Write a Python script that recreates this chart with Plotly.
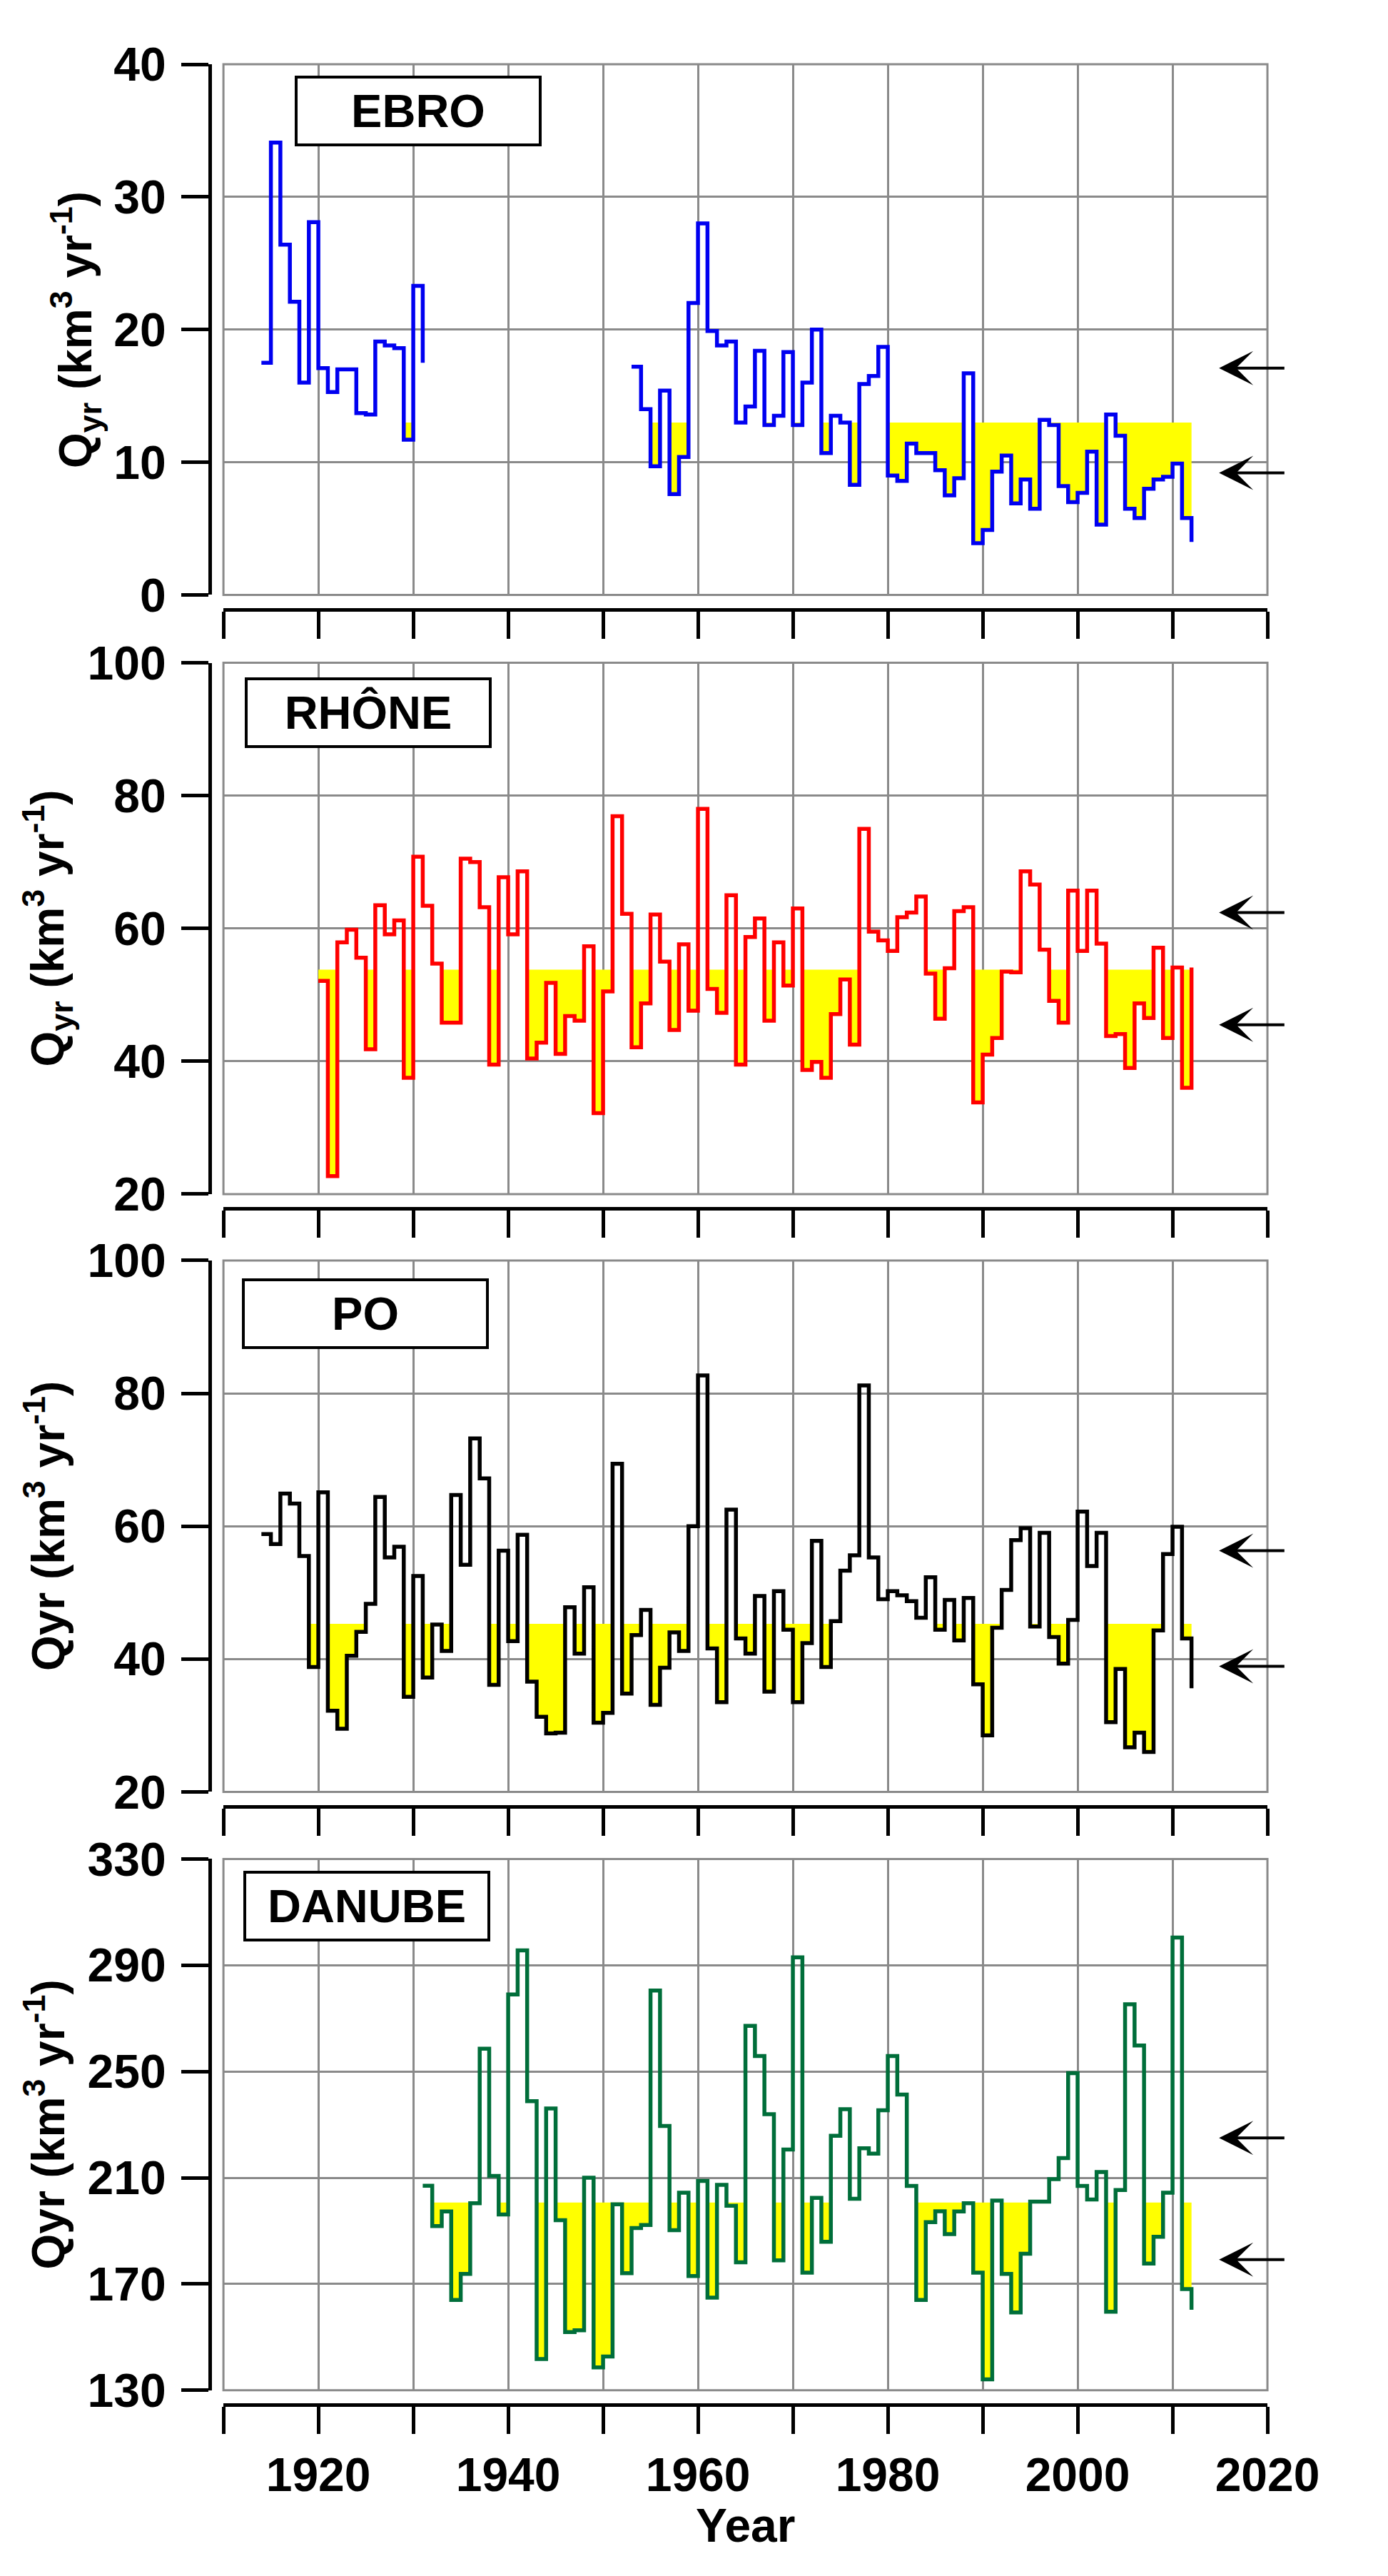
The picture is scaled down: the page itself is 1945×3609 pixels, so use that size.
import plotly.graph_objects as go

W, H = 1945, 3609

# ---------------- data ----------------
years_ebro_a = list(range(1914, 1932))
q_ebro_a = [17.5, 34.1, 26.4, 22.1, 16.0, 28.1, 17.1, 15.3, 17.0, 17.0,
            13.7, 13.6, 19.1, 18.8, 18.6, 11.7, 23.3, 17.5]

years_ebro_b = list(range(1953, 2013))
q_ebro_b = [17.2, 14.0, 9.7, 15.4, 7.6, 10.4, 22.0, 28.0, 19.9, 18.8,
            19.1, 13.0, 14.2, 18.4, 12.8, 13.5, 18.3, 12.8, 16.0, 20.0,
            10.7, 13.5, 13.0, 8.3, 15.9, 16.5, 18.7, 9.0, 8.6, 11.4,
            10.7, 10.7, 9.4, 7.5, 8.8, 16.7, 3.9, 4.9, 9.3, 10.5,
            6.9, 8.7, 6.5, 13.2, 12.8, 8.2, 7.0, 7.7, 10.8, 5.3,
            13.6, 12.0, 6.5, 5.8, 8.0, 8.7, 8.9, 9.9, 5.8, 4.0]

years_rhone = list(range(1920, 2013))
q_rhone = [52.1, 22.7, 57.9, 59.8, 55.6, 41.8, 63.5, 59.1, 61.2, 37.5,
           70.8, 63.4, 54.7, 45.8, 45.8, 70.5, 70.0, 63.2, 39.5, 67.7,
           59.1, 68.6, 40.4, 42.8, 51.8, 41.1, 46.8, 46.1, 57.3, 32.2,
           50.5, 76.9, 62.2, 42.1, 48.7, 62.1, 55.0, 44.7, 57.6, 47.6,
           78.0, 50.9, 47.3, 65.0, 39.5, 58.7, 61.5, 46.1, 57.9, 51.4,
           63.0, 38.7, 39.9, 37.5, 47.1, 52.3, 42.5, 75.0, 59.5, 58.2,
           56.6, 61.7, 62.4, 64.8, 53.2, 46.4, 54.0, 62.6, 63.2, 33.8,
           41.0, 43.5, 53.5, 53.4, 68.6, 66.6, 56.8, 49.1, 45.8, 65.7,
           56.6, 65.7, 57.7, 43.8, 44.1, 39.0, 48.7, 46.5, 57.1, 43.5,
           54.1, 36.0, 54.1]

years_po = list(range(1914, 2013))
q_po = [58.8, 57.3, 64.9, 63.4, 55.5, 38.8, 65.1, 32.2, 29.5, 40.5,
        44.1, 48.3, 64.4, 55.3, 56.9, 34.3, 52.5, 37.2, 45.2, 41.2,
        64.7, 54.2, 73.2, 67.2, 36.1, 56.3, 42.7, 58.7, 36.6, 31.3,
        28.8, 28.9, 47.8, 40.8, 50.8, 30.4, 31.9, 69.4, 34.8, 43.6,
        47.4, 33.1, 38.7, 44.0, 41.2, 60.0, 82.7, 41.6, 33.5, 62.5,
        43.1, 40.8, 49.5, 35.1, 50.2, 44.4, 33.5, 42.4, 57.8, 38.8,
        45.7, 53.3, 55.6, 81.2, 55.3, 49.0, 50.2, 49.6, 48.7, 46.2,
        52.3, 44.4, 48.9, 42.8, 49.2, 36.2, 28.5, 44.7, 50.4, 57.9,
        59.7, 44.9, 59.0, 43.3, 39.3, 45.9, 62.2, 54.0, 59.0, 30.5,
        38.5, 26.7, 28.9, 26.0, 44.3, 55.8, 59.9, 43.1, 35.6]

years_danube = list(range(1931, 2013))
q_danube = [207.0, 191.8, 197.3, 164.0, 173.8, 200.4, 258.6, 210.7, 196.2, 279.0,
            295.6, 238.8, 141.8, 236.1, 194.0, 151.9, 152.6, 210.0, 138.6, 142.7,
            200.0, 174.1, 191.1, 192.2, 280.5, 229.5, 190.3, 204.4, 173.0, 208.8,
            164.9, 207.3, 199.5, 178.2, 267.2, 255.8, 233.9, 178.9, 220.6, 293.0,
            174.3, 202.4, 185.9, 225.8, 235.8, 202.1, 221.1, 219.1, 235.4, 255.8,
            241.3, 206.9, 164.0, 193.3, 197.4, 188.8, 197.3, 200.4, 174.3, 134.1,
            201.4, 173.8, 159.3, 181.4, 201.0, 201.0, 209.5, 217.4, 249.4, 206.9,
            201.8, 212.2, 159.6, 205.4, 275.3, 259.8, 177.7, 187.8, 204.4, 300.4,
            168.1, 160.3]

rivers = ["EBRO", "RHÔNE", "PO", "DANUBE"]
mean_q = [13.0, 53.8, 45.3, 200.7]
arrow_q = [[17.1, 9.2], [62.4, 45.5], [56.3, 38.9], [225.0, 179.2]]
y_ranges = [[0, 40], [20, 100], [20, 100], [130, 330]]
y_ticks = [[0, 10, 20, 30, 40], [20, 40, 60, 80, 100], [20, 40, 60, 80, 100],
           [130, 170, 210, 250, 290, 330]]
x_major_ticks = list(range(1920, 2021, 20))
x_major_labels = [str(v) for v in x_major_ticks]
x_minor_ticks = list(range(1910, 2020, 20))
y_titles = ["Q<sub>yr</sub> (km<sup>3</sup> yr<sup>-1</sup>)",
            "Q<sub>yr</sub> (km<sup>3</sup> yr<sup>-1</sup>)",
            "Qyr (km<sup>3</sup> yr<sup>-1</sup>)",
            "Qyr (km<sup>3</sup> yr<sup>-1</sup>)"]
x_title = "Year"

segments = [
    [(years_ebro_a, q_ebro_a), (years_ebro_b, q_ebro_b)],
    [(years_rhone, q_rhone)],
    [(years_po, q_po)],
    [(years_danube, q_danube)],
]
line_colors = ["#0000F0", "#FF0000", "#000000", "#006E3A"]

# ---------------- layout geometry (pixels) ----------------
FRAME_L, FRAME_R = 317, 1837
tops = [46, 902, 1757, 2613]
bottoms = [805, 1662, 2517, 3373]
YAXIS_X = 297
box_centers = [(601, 113), (528, 973), (524, 1833), (526, 2680)]
ytitle_x = [101, 60, 57, 57]
GRID = "#8A8A8A"
FONT = "Liberation Sans, Arial, sans-serif"


def px_x(p):
    return p / W


def px_y(p):
    return 1 - p / H


fig = go.Figure()
layout = dict(width=W, height=H, margin=dict(l=0, r=0, t=0, b=0),
              paper_bgcolor="white", plot_bgcolor="white", showlegend=False)
annotations = []
shapes = []

for i in range(4):
    n = i + 1
    xa = "x" if n == 1 else f"x{n}"
    ya = "y" if n == 1 else f"y{n}"
    m = mean_q[i]
    for yrs, q in segments[i]:
        qmin = [min(v, m) for v in q]
        fig.add_trace(go.Scatter(x=yrs, y=[m] * len(yrs), mode="lines",
                                 line=dict(width=0, shape="hv"),
                                 xaxis=xa, yaxis=ya, hoverinfo="skip"))
        fig.add_trace(go.Scatter(x=yrs, y=qmin, mode="lines",
                                 line=dict(width=0, shape="hv"),
                                 fill="tonexty", fillcolor="#FFFF00",
                                 xaxis=xa, yaxis=ya, hoverinfo="skip"))
        fig.add_trace(go.Scatter(x=yrs, y=q, mode="lines",
                                 line=dict(width=5.5, shape="hv", color=line_colors[i]),
                                 xaxis=xa, yaxis=ya))

    tickfont = dict(family=FONT, size=66, color="black", weight="bold")
    layout["xaxis" if n == 1 else f"xaxis{n}"] = dict(
        domain=[px_x(FRAME_L), px_x(FRAME_R)], range=[1910, 2020],
        anchor="free", position=px_y(bottoms[i] + 21), side="bottom",
        showline=True, linecolor="black", linewidth=5,
        ticks="outside", ticklen=38, tickwidth=5, tickcolor="black",
        tickmode="array", tickvals=x_major_ticks, ticktext=x_major_labels,
        showticklabels=(n == 4), tickfont=tickfont, ticklabelstandoff=0,
        minor=dict(tickmode="array", tickvals=x_minor_ticks, ticks="outside",
                   ticklen=38, tickwidth=5, tickcolor="black",
                   showgrid=True, gridcolor=GRID, gridwidth=3),
        showgrid=True, gridcolor=GRID, gridwidth=3, zeroline=False)
    layout["yaxis" if n == 1 else f"yaxis{n}"] = dict(
        domain=[px_y(bottoms[i]), px_y(tops[i])], range=y_ranges[i],
        anchor="free", position=px_x(YAXIS_X), side="left",
        showline=True, linecolor="black", linewidth=5,
        ticks="outside", ticklen=38, tickwidth=5, tickcolor="black",
        tickmode="array", tickvals=y_ticks[i],
        tickfont=tickfont, ticklabelstandoff=8,
        showgrid=True, gridcolor=GRID, gridwidth=3, zeroline=False)

    # grey frame
    shapes.append(dict(type="rect", xref=f"{xa} domain", yref=f"{ya} domain",
                       x0=0, x1=1, y0=0, y1=1, line=dict(color=GRID, width=3),
                       layer="above"))

    # river name box
    bx, by = box_centers[i]
    annotations.append(dict(text=f"<b>{rivers[i]}</b>", xref="paper", yref="paper",
                            x=px_x(bx), y=px_y(by), xanchor="center", yanchor="middle",
                            showarrow=False, width=334, height=87, align="center",
                            bgcolor="white", bordercolor="black", borderwidth=4,
                            borderpad=2, font=dict(family=FONT, size=65, color="black")))

    # y-axis title
    annotations.append(dict(text=f"<b>{y_titles[i]}</b>", xref="paper", yref=f"{ya} domain",
                            x=px_x(ytitle_x[i]), y=0.5, xanchor="center", yanchor="middle",
                            textangle=-90, showarrow=False,
                            font=dict(family=FONT, size=64, color="black")))

    # arrows on the right
    for v in arrow_q[i]:
        annotations.append(dict(text="", x=2014.9, y=v, ax=2021.9, ay=v,
                                xref=xa, yref=ya, axref=xa, ayref=ya,
                                showarrow=True, arrowhead=3, arrowsize=2,
                                arrowwidth=4, arrowcolor="black"))

annotations.append(dict(text=f"<b>{x_title}</b>", xref="paper", yref="paper",
                        x=px_x((FRAME_L + FRAME_R) / 2), y=px_y(3566),
                        xanchor="center", yanchor="middle", showarrow=False,
                        font=dict(family=FONT, size=66, color="black")))

layout["annotations"] = annotations
layout["shapes"] = shapes
fig.update_layout(**layout)

fig.write_html("out.html", config={"displayModeBar": False})
